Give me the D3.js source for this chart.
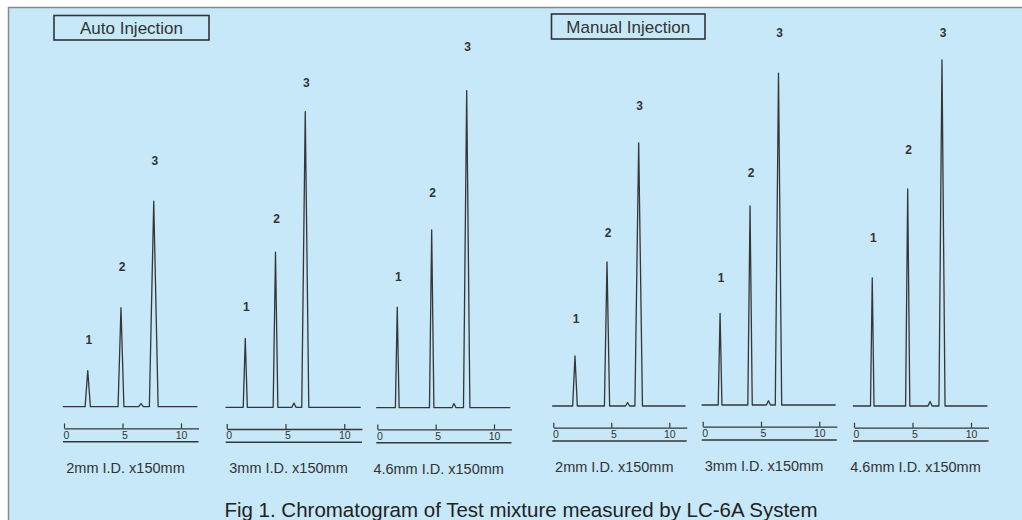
<!DOCTYPE html>
<html>
<head>
<meta charset="utf-8">
<script src="https://cdn.jsdelivr.net/npm/d3@7"></script>
<style>
  html, body { margin: 0; padding: 0; background: #fff; }
  svg { display: block; font-family: "Liberation Sans", Arial, sans-serif; }
</style>
</head>
<body>
<svg id="chart" width="1022" height="520"></svg>
<script>
// one chromatogram per column, auto injection first, then manual injection
const columns = ['2mm I.D. x150mm', '3mm I.D. x150mm', '4.6mm I.D. x150mm',
                 '2mm I.D. x150mm', '3mm I.D. x150mm', '4.6mm I.D. x150mm'];
const injectionModes = ['Auto Injection', 'Manual Injection'];
const peakNames = ['1', '2', '3'];
const axisTicks = [0, 5, 10];

// retention times (min)
const peak1Time = [2.03, 1.58, 1.71, 1.87, 1.49, 1.56];
const peak2Time = [4.87, 4.15, 4.66, 4.63, 4.06, 4.59];
const peak3Time = [7.67, 6.68, 7.66, 7.36, 6.50, 7.52];
const minorTime = [6.58, 5.72, 6.57, 6.40, 5.64, 6.50];

// peak heights (relative response)
const peak1Height = [10.3, 19.7, 28.7, 14.3, 26.2, 36.6];
const peak2Height = [28.3, 44.3, 50.8, 41.2, 56.9, 62.0];
const peak3Height = [58.7, 84.5, 90.6, 75.2, 94.8, 98.9];
const minorHeight = [0.9, 1.2, 1.2, 1.0, 1.2, 1.3];

// peak base widths (min)
const peak1Width = [0.45, 0.35, 0.32, 0.40, 0.32, 0.30];
const peak2Width = [0.50, 0.40, 0.38, 0.45, 0.38, 0.36];
const peak3Width = [0.75, 0.60, 0.55, 0.65, 0.55, 0.52];
const minorWidth = [0.40, 0.35, 0.35, 0.35, 0.35, 0.35];

// layout of each panel on the page
const panelLeft = [64, 226.7, 377.3, 553.3, 702.7, 854];
const pxPerMin = [11.7, 11.76, 11.67, 11.6, 11.66, 11.7];
const panelBase = [406.7, 407.3, 407.7, 406, 405, 406];
// gap (px) between a peak apex and its number, peaks 1..3
const labelGap = [[31, 41, 40], [32, 33, 29], [30, 37, 44],
                  [37, 29, 37], [36, 33, 40], [40, 39, 27]];
const titleBoxes = [
  { x: 54, y: 15.5, w: 155, h: 24.5 },
  { x: 551.5, y: 14, w: 153.5, h: 25 }
];

const ink = '#363636';
const svg = d3.select('#chart');

// page background with the scanned frame
svg.append('rect').attr('width', 1022).attr('height', 520).attr('fill', '#fff');
svg.append('rect')
  .attr('x', 8.5).attr('y', 7.5).attr('width', 1020).attr('height', 520)
  .attr('fill', '#c7e8f9')
  .attr('stroke', '#8a8a8a').attr('stroke-width', 1.5);

// injection mode boxes
injectionModes.forEach((mode, i) => {
  const b = titleBoxes[i];
  svg.append('rect')
    .attr('x', b.x).attr('y', b.y).attr('width', b.w).attr('height', b.h)
    .attr('fill', 'none').attr('stroke', '#333').attr('stroke-width', 1.6);
  svg.append('text')
    .attr('x', b.x + b.w / 2).attr('y', b.y + b.h / 2)
    .attr('dy', '0.36em')
    .attr('text-anchor', 'middle')
    .attr('font-size', 17)
    .attr('fill', '#333')
    .text(mode);
});

const line = d3.line();

columns.forEach((col, i) => {
  const x = d3.scaleLinear()
    .domain([0, 11.5])
    .range([panelLeft[i], panelLeft[i] + 11.5 * pxPerMin[i]]);
  const y = d3.scaleLinear()
    .domain([0, 100])
    .range([panelBase[i], panelBase[i] - 350]);

  const peaks = [
    { t: peak1Time[i], h: peak1Height[i], w: peak1Width[i], name: peakNames[0], gap: labelGap[i][0] },
    { t: peak2Time[i], h: peak2Height[i], w: peak2Width[i], name: peakNames[1], gap: labelGap[i][1] },
    { t: minorTime[i], h: minorHeight[i], w: minorWidth[i], name: null },
    { t: peak3Time[i], h: peak3Height[i], w: peak3Width[i], name: peakNames[2], gap: labelGap[i][2] }
  ].sort((a, b) => a.t - b.t);

  // trace: flat baseline with a sharp peak at each retention time
  const pts = [[-0.1, 0]];
  peaks.forEach(p => {
    pts.push([p.t - p.w / 2, 0], [p.t, p.h], [p.t + p.w / 2, 0]);
  });
  pts.push([11.4, 0]);

  const g = svg.append('g').attr('class', 'panel');

  g.append('path')
    .datum(pts)
    .attr('d', line.x(d => x(d[0])).y(d => y(d[1])))
    .attr('fill', 'none')
    .attr('stroke', ink)
    .attr('stroke-width', 1.3)
    .attr('stroke-linejoin', 'round');

  g.selectAll('text.peak')
    .data(peaks.filter(p => p.name))
    .join('text')
    .attr('class', 'peak')
    .attr('x', d => x(d.t) + 1)
    .attr('y', d => y(d.h) - d.gap)
    .attr('dy', '0.35em')
    .attr('text-anchor', 'middle')
    .attr('font-size', 12)
    .attr('font-weight', 'bold')
    .attr('fill', '#333')
    .text(d => d.name);

  // time axis (min), ticks pointing up, labels underneath
  const axisY = panelBase[i] + 21.7;
  const axis = d3.axisBottom(x)
    .tickValues(axisTicks)
    .tickSizeInner(-5)
    .tickSizeOuter(0)
    .tickPadding(3)
    .tickFormat(d3.format('d'));

  const ax = g.append('g')
    .attr('transform', `translate(0,${axisY})`)
    .attr('color', ink)
    .call(axis);
  ax.select('.domain').attr('stroke-width', 1.3);
  ax.selectAll('.tick line').attr('stroke-width', 1.2);
  ax.selectAll('.tick text')
    .attr('dx', d => d === 10 ? 0 : 2)
    .attr('font-size', 10.5)
    .attr('font-family', '"Liberation Sans", Arial, sans-serif')
    .attr('fill', '#333');

  g.append('line')
    .attr('x1', x.range()[0] - 1).attr('x2', x.range()[1])
    .attr('y1', axisY + 13.3).attr('y2', axisY + 13.3)
    .attr('stroke', ink).attr('stroke-width', 1.6);

  g.append('text')
    .attr('x', x(5) + 3)
    .attr('y', panelBase[i] + 66)
    .attr('text-anchor', 'middle')
    .attr('font-size', 14.5)
    .attr('fill', '#333')
    .text(col);
});

svg.append('text')
  .attr('x', 521).attr('y', 517)
  .attr('text-anchor', 'middle')
  .attr('font-size', 20.5)
  .attr('fill', '#222')
  .text('Fig 1. Chromatogram of Test mixture measured by LC-6A System');
</script>
</body>
</html>
